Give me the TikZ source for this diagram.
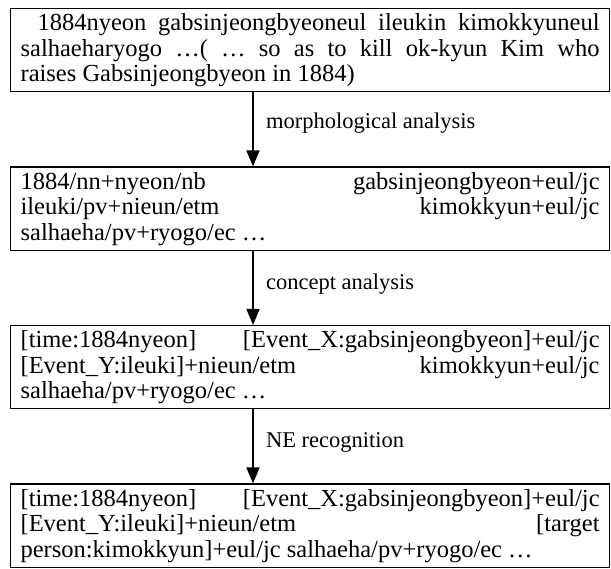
\documentclass[tikz,border=0pt]{standalone}
\usepackage{fontspec}
\setmainfont{Liberation Serif}
\usepackage{tikz}
\usetikzlibrary{arrows.meta, positioning}

\begin{document}
\begin{tikzpicture}[
            x=1pt, y=1pt,
            node distance=74pt,
            box/.style={draw, line width=1.2pt, text width=579pt, align=justify,
                        inner xsep=10pt, inner ysep=5pt,
                        font=\fontsize{24.5}{25.5}\selectfont},
            arr/.style={-{Triangle[length=16pt, width=13pt]}, line width=1.5pt},
            lbl/.style={right=9pt, font=\fontsize{22.5}{24}\selectfont}
          ]
          \useasboundingbox (0,0) rectangle (611,-569);
          \tolerance=10000 \hyphenpenalty=10000 \exhyphenpenalty=10000
          \node[box, anchor=north west] (input) at (10,-8)
            {\hspace*{17pt}1884nyeon gabsinjeongbyeoneul ileukin kimokkyuneul\linebreak{}
             salhaeharyogo …( … so as to kill ok-kyun Kim who\linebreak{}
             raises Gabsinjeongbyeon in 1884)};
          \node[box, below=of input] (morph)
            {1884/nn+nyeon/nb gabsinjeongbyeon+eul/jc\linebreak{}
             ileuki/pv+nieun/etm kimokkyun+eul/jc\linebreak{}
             salhaeha/pv+ryogo/ec …};
          \node[box, below=of morph] (concept)
            {[time:1884nyeon] [Event\_X:gabsinjeongbyeon]+eul/jc\linebreak{}
             [Event\_Y:ileuki]+nieun/etm kimokkyun+eul/jc\linebreak{}
             salhaeha/pv+ryogo/ec …};
          \node[box, below=of concept] (ne)
            {[time:1884nyeon] [Event\_X:gabsinjeongbyeon]+eul/jc\linebreak{}
             [Event\_Y:ileuki]+nieun/etm [target\linebreak{}
             person:kimokkyun]+eul/jc salhaeha/pv+ryogo/ec …};
          \coordinate (ax) at (253,0);
          % processing steps
          \draw[arr] (input.south -| ax) -- node[lbl, pos=0.42] {morphological analysis} (morph.north -| ax);
          \draw[arr] (morph.south -| ax) -- node[lbl, pos=0.45] {concept analysis} (concept.north -| ax);
          \draw[arr] (concept.south -| ax) -- node[lbl, pos=0.45] {NE recognition} (ne.north -| ax);
\end{tikzpicture}
\end{document}
